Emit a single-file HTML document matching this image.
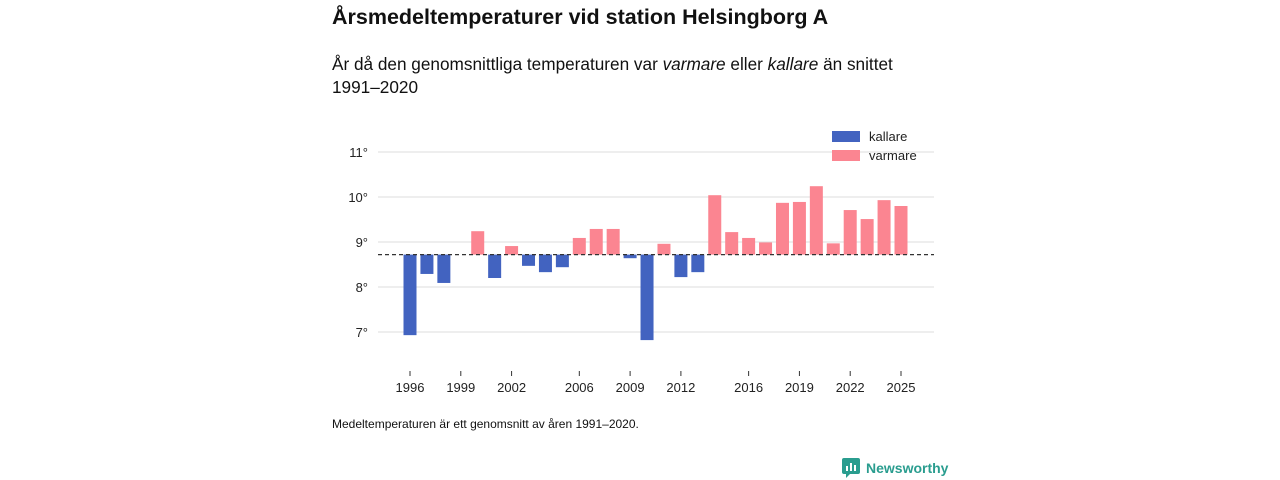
<!DOCTYPE html>
<html><head><meta charset="utf-8"><style>
body{margin:0;width:1280px;height:480px;background:#fff;font-family:"Liberation Sans","DejaVu Sans",sans-serif;color:#111;position:relative;overflow:hidden}
.t{position:absolute;left:332px;top:5px;font-size:21.5px;font-weight:bold}
.s{position:absolute;left:332px;top:53px;font-size:17.2px;line-height:23px;width:600px}
.n{position:absolute;left:332px;top:417px;font-size:12px}
.logo{position:absolute;left:842px;top:458px;font-size:14px;font-weight:bold;color:#2a9d8f;display:flex;align-items:center;gap:6px}
</style></head><body>
<div class="t">Årsmedeltemperaturer vid station Helsingborg A</div>
<div class="s">År då den genomsnittliga temperaturen var <i>varmare</i> eller <i>kallare</i> än snittet 1991–2020</div>
<svg id="c" width="1280" height="480" style="position:absolute;left:0;top:0"></svg>
<div class="n">Medeltemperaturen är ett genomsnitt av åren 1991–2020.</div>
<div class="logo"><svg width="18" height="20"><rect x="0" y="0" width="18" height="16" rx="2" fill="#2a9d8f"/><path d="M4 16 L4 20 L8 16Z" fill="#2a9d8f"/><rect x="4" y="8" width="2" height="5" fill="#fff"/><rect x="8" y="5" width="2" height="8" fill="#fff"/><rect x="12" y="7" width="2" height="6" fill="#fff"/></svg>Newsworthy</div>
<script>
const years=[1996,1997,1998,1999,2000,2001,2002,2003,2004,2005,2006,2007,2008,2009,2010,2011,2012,2013,2014,2015,2016,2017,2018,2019,2020,2021,2022,2023,2024,2025];
const temps=[6.93,8.29,8.09,8.72,9.24,8.2,8.91,8.47,8.33,8.44,9.09,9.29,9.29,8.64,6.82,8.96,8.22,8.33,10.04,9.22,9.09,8.99,9.87,9.89,10.24,8.97,9.71,9.51,9.93,9.8];
const baseline=8.72;
const yTicks=[7,8,9,10,11];
const xTickLabels=[1996,1999,2002,2006,2009,2012,2016,2019,2022,2025];
const svg=document.getElementById('c');const NS='http://www.w3.org/2000/svg';
const y=v=>242-(v-9)*45;
const x=yr=>410+(yr-1996)*(491/29);
function el(t,a,txt){const e=document.createElementNS(NS,t);for(const k in a)e.setAttribute(k,a[k]);if(txt!=null)e.textContent=txt;svg.appendChild(e);return e;}
yTicks.forEach(v=>{
const g=el('line',{x1:378,x2:934,y1:y(v),y2:y(v),stroke:'#ddd'});


const t=el('text',{x:368,y:y(v)+5,'text-anchor':'end','font-size':13,fill:'#222'},v+'°');


});
years.forEach((yr,i)=>{
const v=temps[i];const warm=v>=baseline;
const r=el('rect',{x:x(yr)-6.5,width:13,y:Math.min(y(v),y(baseline)),height:Math.abs(y(v)-y(baseline)),fill:warm?'#fb8591':'#4263c0'});


});
const b=el('line',{x1:378,x2:934,y1:y(baseline),y2:y(baseline),stroke:'#333','stroke-dasharray':'4,3','stroke-width':1.2});


xTickLabels.forEach(yr=>{
const tk=el('line',{x1:x(yr),x2:x(yr),y1:371,y2:376,stroke:'#333'});


const t=el('text',{x:x(yr),y:392,'text-anchor':'middle','font-size':13,fill:'#222'},yr);


});
[['kallare','#4263c0',131],['varmare','#fb8591',150]].forEach(([n,c,yy])=>{
const r=el('rect',{x:832,y:yy,width:28,height:11,fill:c});


const t=el('text',{x:869,y:yy+10,'font-size':13,fill:'#222'},n);


});
</script>
</body></html>
